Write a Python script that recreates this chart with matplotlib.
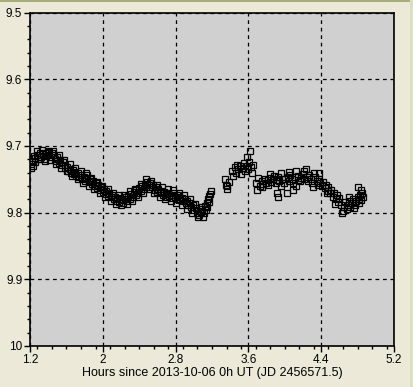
import matplotlib.pyplot as plt
from matplotlib.patches import Rectangle
from matplotlib.ticker import MultipleLocator

# Data for the plot (hours since 2013-10-06 0h UT, magnitude)
hours = [
    1.21, 1.22, 1.23, 1.25, 1.26, 1.28, 1.29, 1.31, 1.32, 1.34, 1.35, 1.37, 1.38, 1.40, 1.41, 1.43, 1.44, 1.46, 1.47,
    1.49, 1.50, 1.52, 1.53, 1.55, 1.56, 1.58, 1.59, 1.61, 1.62, 1.64, 1.65, 1.67, 1.68, 1.70, 1.71, 1.73, 1.74,
    1.76, 1.77, 1.79, 1.80, 1.82, 1.83, 1.85, 1.86,
    1.88, 1.89, 1.91, 1.92, 1.94, 1.95, 1.97, 1.98, 2.00, 2.01, 2.03, 2.04, 2.06, 2.07, 2.09, 2.10, 2.12, 2.13,
    2.15, 2.16, 2.18, 2.19, 2.21, 2.22, 2.24, 2.25,
    2.27, 2.28, 2.30, 2.31, 2.33, 2.34, 2.36, 2.37, 2.39, 2.40, 2.42, 2.43, 2.45, 2.46, 2.48, 2.49, 2.51, 2.52,
    2.54, 2.55, 2.57, 2.58, 2.60, 2.61, 2.63, 2.64, 2.66, 2.67, 2.69, 2.70, 2.72, 2.73, 2.75, 2.76, 2.78, 2.79,
    2.81, 2.82, 2.84, 2.85, 2.87, 2.88,
    2.90, 2.91, 2.93, 2.94, 2.96, 2.97, 2.99, 3.00, 3.02, 3.03, 3.05, 3.06, 3.08, 3.09, 3.11, 3.12,
    3.14, 3.15, 3.16, 3.17, 3.18, 3.19,
    3.34, 3.35, 3.36, 3.37, 3.39,
    3.42, 3.43, 3.45, 3.46, 3.48, 3.49, 3.51, 3.52, 3.54, 3.55, 3.56, 3.58, 3.59, 3.60, 3.61, 3.62, 3.63, 3.64, 3.65,
    3.68, 3.69, 3.71,
    3.73, 3.75, 3.76, 3.78, 3.79, 3.81, 3.82, 3.84, 3.85, 3.87, 3.88, 3.90, 3.91, 3.93, 3.94, 3.96, 3.97, 3.99,
    4.00, 4.02, 4.03, 4.05, 4.06, 4.08, 4.09, 4.11, 4.12, 4.14, 4.15, 4.17, 4.18, 4.20, 4.21, 4.23, 4.24, 4.26,
    4.27, 4.29, 4.30, 4.32, 4.33, 4.35, 4.36, 4.38, 4.39, 3.91, 3.92, 4.09,
    4.41, 4.42, 4.44, 4.45, 4.47, 4.48, 4.50, 4.51, 4.53, 4.54, 4.56, 4.57, 4.59, 4.60,
    4.62, 4.63, 4.65, 4.66, 4.68, 4.69, 4.71, 4.72, 4.74, 4.75, 4.77, 4.78, 4.80, 4.81, 4.82, 4.83, 4.84, 4.85,
    4.86, 4.80,
    # second pass of observations (wider scatter)
    1.215, 1.245, 1.275, 1.305, 1.335, 1.365, 1.395, 1.425, 1.455, 1.485, 1.515, 1.545, 1.575, 1.605, 1.635,
    1.665, 1.695, 1.725, 1.755, 1.785, 1.815, 1.845, 1.875, 1.905, 1.935, 1.965, 1.995, 2.025, 2.055, 2.085,
    2.115, 2.145, 2.175, 2.205, 2.235, 2.265, 2.295, 2.325, 2.355, 2.385, 2.415, 2.445, 2.475, 2.505, 2.535,
    2.565, 2.595, 2.625, 2.655, 2.685, 2.715, 2.745, 2.775, 2.805, 2.835, 2.865, 2.895, 2.925, 2.955, 2.985,
    3.015, 3.045, 3.075, 3.105, 3.135, 3.165,
    3.745, 3.835, 3.955, 4.045, 4.125, 4.215, 4.305, 4.375, 4.465, 4.555, 4.645, 4.705, 4.765, 4.835,
]
mags = [
    9.727, 9.722, 9.730, 9.718, 9.724, 9.714, 9.719, 9.711, 9.716, 9.712, 9.720, 9.710, 9.715, 9.713, 9.709, 9.717, 9.711, 9.714, 9.720,
    9.722, 9.717, 9.726, 9.721, 9.729, 9.724, 9.733, 9.728, 9.731, 9.737, 9.734, 9.740, 9.736, 9.742, 9.739, 9.745, 9.741, 9.747,
    9.744, 9.749, 9.746, 9.752, 9.748, 9.743, 9.754, 9.750,
    9.757, 9.752, 9.760, 9.756, 9.763, 9.758, 9.766, 9.761, 9.769, 9.764, 9.772, 9.767, 9.775, 9.770, 9.777, 9.773, 9.780, 9.776,
    9.782, 9.778, 9.784, 9.779, 9.781, 9.786, 9.780, 9.777,
    9.782, 9.775, 9.779, 9.772, 9.776, 9.769, 9.773, 9.766, 9.770, 9.763, 9.767, 9.760, 9.764, 9.757, 9.761, 9.754, 9.759, 9.755,
    9.762, 9.758, 9.766, 9.761, 9.769, 9.764, 9.771, 9.767, 9.774, 9.769, 9.772, 9.777, 9.770, 9.775, 9.773, 9.778, 9.771, 9.776,
    9.774, 9.779, 9.776, 9.781, 9.778, 9.783,
    9.780, 9.786, 9.783, 9.789, 9.786, 9.792, 9.789, 9.796, 9.793, 9.800, 9.797, 9.804, 9.799, 9.795, 9.801, 9.790,
    9.786, 9.792, 9.780, 9.784, 9.772, 9.768,
    9.750, 9.758, 9.765, 9.760, 9.754,
    9.738, 9.745, 9.732, 9.740, 9.728, 9.735, 9.730, 9.742, 9.733, 9.726, 9.737, 9.730, 9.716, 9.735, 9.724, 9.707, 9.732, 9.740, 9.728,
    9.756, 9.766, 9.748,
    9.760, 9.752, 9.757, 9.749, 9.755, 9.751, 9.758, 9.748, 9.754, 9.750, 9.745, 9.756, 9.751, 9.747, 9.753, 9.740, 9.749, 9.755,
    9.750, 9.771, 9.746, 9.752, 9.743, 9.749, 9.755, 9.747, 9.738, 9.751, 9.745, 9.753, 9.748, 9.742, 9.750, 9.735, 9.746, 9.752,
    9.744, 9.749, 9.755, 9.741, 9.747, 9.753, 9.758, 9.750, 9.756, 9.770, 9.776, 9.766,
    9.760, 9.754, 9.763, 9.758, 9.767, 9.762, 9.771, 9.766, 9.776, 9.770, 9.780, 9.774, 9.784, 9.778,
    9.788, 9.800, 9.792, 9.784, 9.795, 9.789, 9.783, 9.792, 9.786, 9.780, 9.789, 9.783, 9.777, 9.786, 9.779, 9.773, 9.781, 9.771,
    9.776, 9.762,
    9.733, 9.715, 9.708, 9.720, 9.706, 9.722, 9.707, 9.721, 9.708, 9.727, 9.714, 9.733, 9.721, 9.738, 9.727,
    9.745, 9.733, 9.750, 9.738, 9.755, 9.741, 9.760, 9.748, 9.765, 9.754, 9.771, 9.760, 9.777, 9.764, 9.783,
    9.771, 9.787, 9.773, 9.789, 9.774, 9.787, 9.768, 9.783, 9.764, 9.777, 9.757, 9.770, 9.750, 9.765, 9.752,
    9.771, 9.758, 9.776, 9.762, 9.780, 9.765, 9.783, 9.766, 9.785, 9.770, 9.789, 9.774, 9.794, 9.780, 9.800,
    9.787, 9.806, 9.792, 9.806, 9.796, 9.775,
    9.762, 9.742, 9.760, 9.739, 9.760, 9.738, 9.762, 9.740, 9.770, 9.787, 9.798, 9.776, 9.793, 9.766,
]

x_ticks = [1.2, 2.0, 2.8, 3.6, 4.4, 5.2]
x_tick_labels = ['1.2', '2', '2.8', '3.6', '4.4', '5.2']
y_ticks = [9.5, 9.6, 9.7, 9.8, 9.9, 10.0]
y_tick_labels = ['9.5', '9.6', '9.7', '9.8', '9.9', '10']

plt.rcParams['font.family'] = ['Liberation Sans', 'DejaVu Sans']

fig = plt.figure(figsize=(4.14, 3.87), dpi=100, facecolor='#ECE9D8')
ax = fig.add_axes([30 / 414, 41 / 387, 364 / 414, 333.5 / 387])
ax.set_facecolor('#D0D0D0')

ax.plot(hours, mags, 's', mfc='none', mec='black', ms=4.8, mew=0.9, zorder=3)

ax.set_xlim(1.2, 5.2)
ax.set_ylim(10.0, 9.5)

ax.set_xticks(x_ticks)
ax.set_xticklabels(x_tick_labels)
ax.set_yticks(y_ticks)
ax.set_yticklabels(y_tick_labels)
ax.xaxis.set_minor_locator(MultipleLocator(0.16))
ax.yaxis.set_minor_locator(MultipleLocator(0.02))
ax.tick_params(which='major', direction='out', length=4, width=1, labelsize=8.5, pad=1.5, colors='black')
ax.tick_params(which='minor', direction='out', length=2.5, width=1)

ax.grid(True, which='major', linestyle=(0, (3, 3)), color='black', linewidth=0.9)
for s in ax.spines.values():
    s.set_linewidth(1.2)
    s.set_color('black')

ax.set_xlabel('Hours since 2013-10-06 0h UT (JD 2456571.5)', fontsize=9, labelpad=1)

# window frame bits
fig.add_artist(Rectangle((0, 1 - 2 / 387), 1, 2 / 387, transform=fig.transFigure,
                         facecolor='#A4AE78', edgecolor='none'))
fig.add_artist(Rectangle((1 - 4 / 414, 0), 4 / 414, 1, transform=fig.transFigure,
                         facecolor='#D6E2BC', edgecolor='none'))

plt.savefig('out.png', dpi=100, facecolor=fig.get_facecolor())
